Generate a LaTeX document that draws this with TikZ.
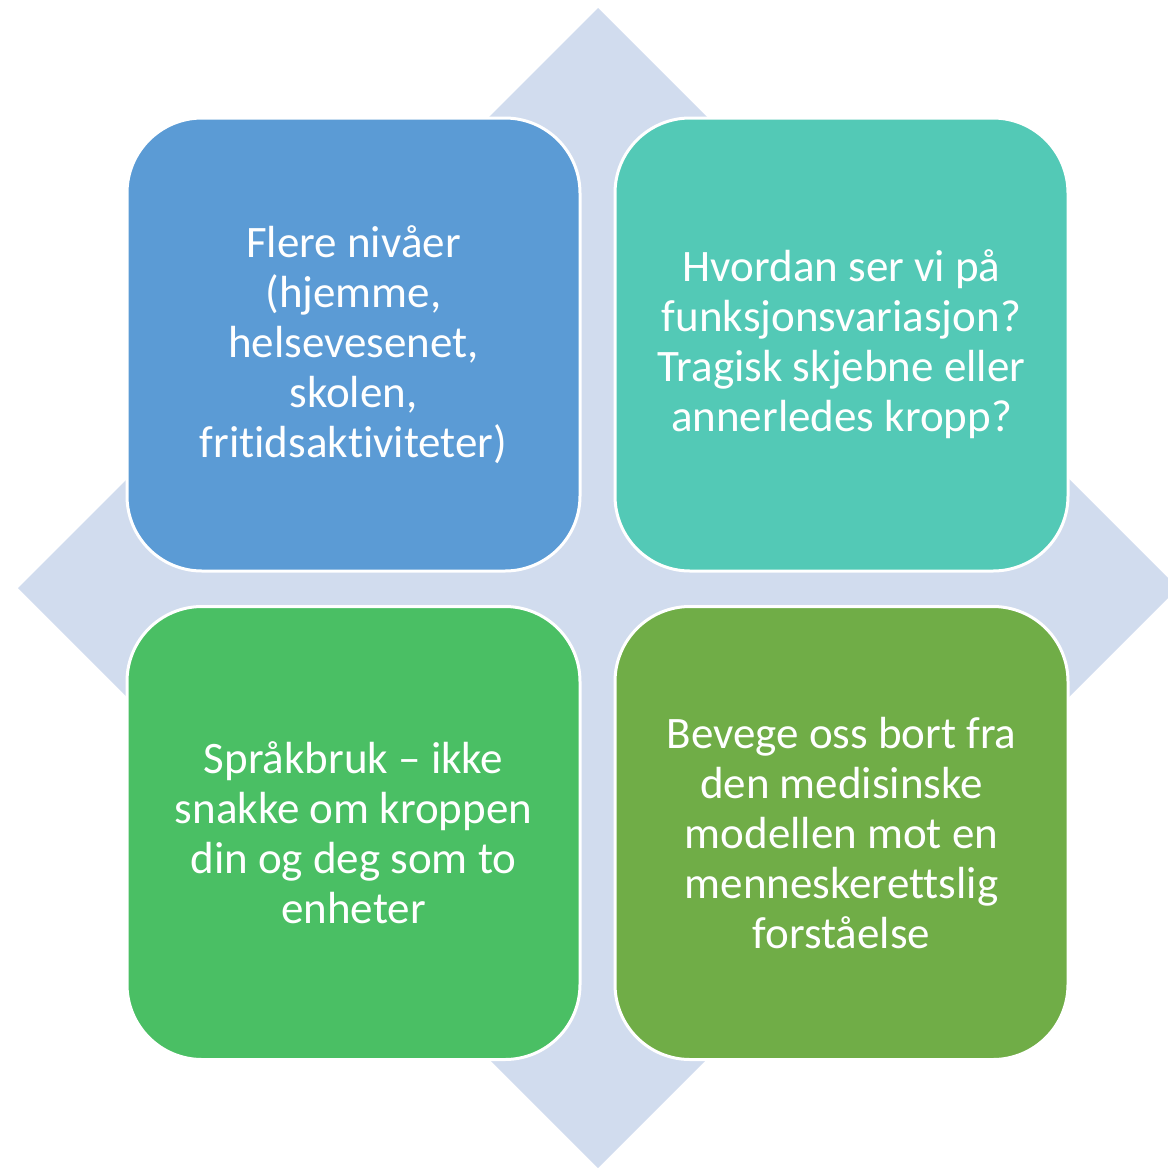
\documentclass[tikz,border=0pt]{standalone}
\usepackage{fontspec}
\setmainfont{Carlito}[Ligatures=NoCommon]
\usetikzlibrary{positioning}

\definecolor{diamondblue}{HTML}{D1DCEE}
\definecolor{tileblue}{HTML}{5B9BD5}
\definecolor{tileteal}{HTML}{53C9B6}
\definecolor{tilegreen}{HTML}{4ABF64}
\definecolor{tileolive}{HTML}{70AD47}

\tikzset{
	tile/.style={draw=white, line width=3pt, rounded corners=75pt,
		minimum width=453pt, minimum height=453pt, inner sep=0pt,
		text=white, align=center, font=\fontsize{45}{50}\selectfont}
}

\begin{document}
\begin{tikzpicture}[x=1pt,y=-1pt]
	\useasboundingbox (0,0) rectangle (1168,1168);
	\clip (0,0) rectangle (1168,1168);
	\fill[diamondblue] (598,8) -- (1178,588) -- (598,1168) -- (18,588) -- cycle;

	\node[tile, fill=tileblue]	(levels) at (353.5,344.5) {Flere nivåer\\(hjemme,\\helsevesenet,\\skolen,\\fritidsaktiviteter)};
	\node[tile, fill=tileteal]	(view) at (841.5,344.5) {Hvordan ser vi på\\funksjonsvariasjon?\\Tragisk skjebne eller\\annerledes kropp?};
	\node[tile, fill=tilegreen]	(language) at (353.5,833) {Språkbruk – ikke\\snakke om kroppen\\din og deg som to\\enheter};
	\node[tile, fill=tileolive]	(model) at (841.5,833) {Bevege oss bort fra\\den medisinske\\modellen mot en\\menneskerettslig\\forståelse};
\end{tikzpicture}
\end{document}
